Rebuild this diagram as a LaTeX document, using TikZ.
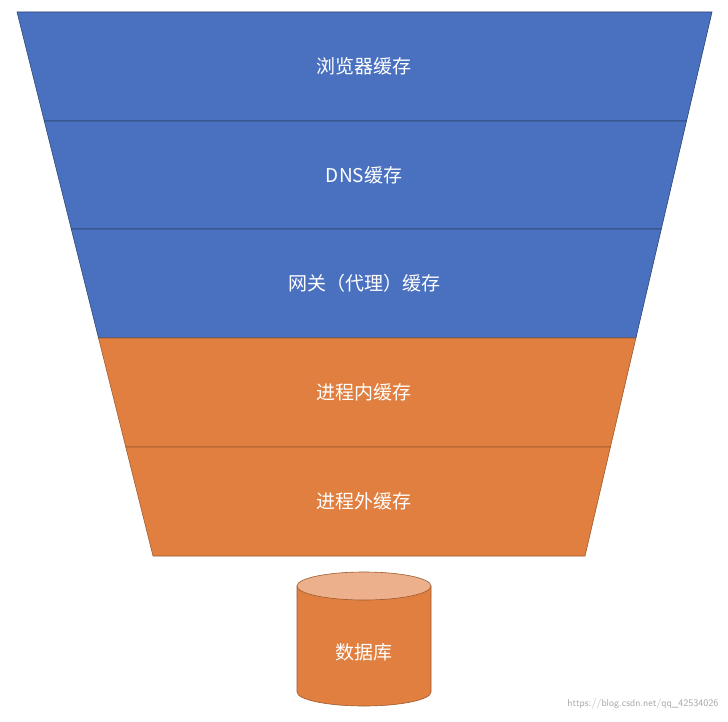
\documentclass[tikz,border=0pt]{standalone}
\usepackage{fontspec}
\newfontfamily\cjk{Noto Sans CJK SC}
\definecolor{fblue}{HTML}{4A71C0}
\definecolor{forange}{HTML}{E07F3F}
\definecolor{ftop}{HTML}{EDB08C}
\begin{document}
\begin{tikzpicture}[x=1pt,y=-1pt,
  bl/.style={fill=fblue,draw=fblue!60!black,line width=0.6pt},
  orl/.style={fill=forange,draw=forange!70!black,line width=0.6pt},
  lbl/.style={text=white,font=\cjk\fontsize{19}{22}\selectfont}]
\useasboundingbox (0,0) rectangle (728,722);
\fill[white] (0,0) rectangle (728,722);
\draw[bl] (17,12) -- (712,12) -- (686.5,121) -- (44.25,121) -- cycle;
\draw[bl] (44.25,121) -- (686.5,121) -- (661.3,229) -- (71.25,229) -- cycle;
\draw[bl] (71.25,229) -- (661.3,229) -- (635.9,338) -- (98.5,338) -- cycle;
\draw[orl] (98.5,338) -- (635.9,338) -- (610.4,447) -- (125.75,447) -- cycle;
\draw[orl] (125.75,447) -- (610.4,447) -- (585,556) -- (153,556) -- cycle;
\node[lbl] (l1) at (364,66) {浏览器缓存};
\node[lbl] (l2) at (364,175) {DNS缓存};
\node[lbl] (l3) at (364,283) {网关（代理）缓存};
\node[lbl] (l4) at (364,392) {进程内缓存};
\node[lbl] (l5) at (364,501) {进程外缓存};
\draw[orl] (297,586) -- (297,692) arc[start angle=180,end angle=360,x radius=67,y radius=-14] -- (431,586) -- cycle;
\draw[fill=ftop,draw=forange!70!black,line width=0.6pt] (364,586) ellipse[x radius=67,y radius=14];
\node[lbl] (db) at (364,652) {数据库};
\node[text=gray!70,font=\fontsize{10}{12}\selectfont\sffamily,anchor=east] (wm) at (722,704) {https://blog.csdn.net/qq\_42534026};
\end{tikzpicture}
\end{document}
